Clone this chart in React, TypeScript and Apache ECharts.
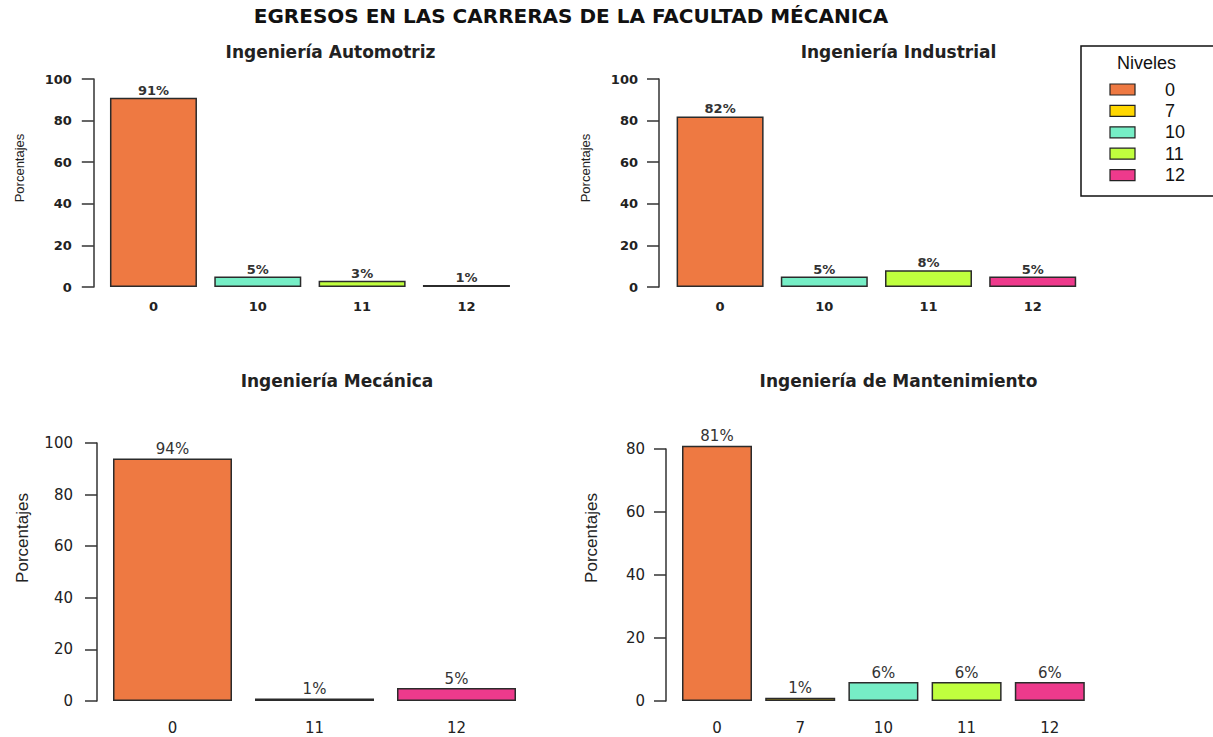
import React, { useEffect, useRef } from "react";
import * as echarts from "echarts";

// ---- Data ----
const levels = ["0", "7", "10", "11", "12"];
const levelColors = ["#EE7942", "#FFD700", "#76EEC6", "#C0FF3E", "#EE3A8C"];

const autoCats = ["0", "10", "11", "12"];
const autoVals = [91, 5, 3, 1];

const indCats = ["0", "10", "11", "12"];
const indVals = [82, 5, 8, 5];

const mecCats = ["0", "11", "12"];
const mecVals = [94, 1, 5];

const manCats = ["0", "7", "10", "11", "12"];
const manVals = [81, 1, 6, 6, 6];

const mainTitle = "EGRESOS EN LAS CARRERAS DE LA FACULTAD MÉCANICA";
const yName = "Porcentajes";
const legendTitle = "Niveles";

const FONT = "'DejaVu Sans', sans-serif";
const NARROW = "'Liberation Sans Narrow', 'Liberation Sans', Arial, sans-serif";

const colorOf = (c: string) => levelColors[levels.indexOf(c)];

const panels = [
  {
    title: "Ingeniería Automotriz", cats: autoCats, vals: autoVals, max: 100,
    grid: { left: 101.3, top: 79, width: 417.3, height: 208 }, offset: 7.5, barWidth: 87,
    small: true, titleX: 330.5, titleTop: 43, nameX: 19.5, nameY: 168, labelMargin: 22,
  },
  {
    title: "Ingeniería Industrial", cats: indCats, vals: indVals, max: 100,
    grid: { left: 668, top: 79, width: 416.8, height: 208 }, offset: 9, barWidth: 87,
    small: true, titleX: 898.5, titleTop: 43, nameX: 585, nameY: 168, labelMargin: 21,
  },
  {
    title: "Ingeniería Mecánica", cats: mecCats, vals: mecVals, max: 100,
    grid: { left: 101.5, top: 443, width: 426, height: 258 }, offset: 4.5, barWidth: 119,
    small: false, titleX: 337, titleTop: 372, nameX: 22, nameY: 538, labelMargin: 24,
  },
  {
    title: "Ingeniería de Mantenimiento", cats: manCats, vals: manVals, max: 80,
    grid: { left: 675.4, top: 449, width: 416, height: 252 }, offset: 9.4, barWidth: 70,
    small: false, titleX: 898.5, titleTop: 372, nameX: 591, nameY: 538, labelMargin: 21,
  },
];

export default function App() {
  const ref = useRef<HTMLDivElement>(null);

  useEffect(() => {
    if (!ref.current) return;
    const chart = echarts.init(ref.current, null, { renderer: "svg" });

    const titles: any[] = [
      {
        text: mainTitle, left: 571, top: 6, textAlign: "center", padding: 0,
        textStyle: { fontFamily: FONT, fontSize: 20, fontWeight: "bold", color: "#111" },
      },
    ];
    const grids: any[] = [];
    const xAxes: any[] = [];
    const yAxes: any[] = [];
    const series: any[] = [];
    const graphics: any[] = [];

    panels.forEach((p, i) => {
      const s = p.small;
      titles.push({
        text: p.title, left: p.titleX, top: p.titleTop, textAlign: "center", padding: 0,
        textStyle: { fontFamily: FONT, fontSize: s ? 17 : 17, fontWeight: "bold", color: "#222" },
      });
      grids.push({ ...p.grid, containLabel: false, outerBoundsMode: "none" });
      xAxes.push({
        type: "category", gridIndex: i, data: p.cats,
        axisLine: { show: false }, axisTick: { show: false },
        axisLabel: {
          margin: s ? 13 : 19, fontFamily: FONT, fontSize: s ? 13 : 15,
          fontWeight: s ? "bold" : "normal", color: "#222",
        },
      });
      yAxes.push({
        type: "value", gridIndex: i, min: 0, max: p.max, interval: 20, offset: p.offset,
        splitLine: { show: false },
        axisLine: { show: true, lineStyle: { color: "#333", width: 1.5 } },
        axisTick: { show: true, length: 12, lineStyle: { color: "#333", width: 1.5 } },
        axisLabel: {
          margin: p.labelMargin, fontFamily: FONT, fontSize: s ? 13 : 15,
          fontWeight: s ? "bold" : "normal", color: "#222",
        },
      });
      series.push({
        type: "bar", xAxisIndex: i, yAxisIndex: i, clip: false, barWidth: p.barWidth,
        data: p.vals.map((v, k) => ({
          value: v,
          itemStyle: { color: colorOf(p.cats[k]), borderColor: "#2b2b2b", borderWidth: 1.5 },
        })),
        label: {
          show: true, position: "top", distance: s ? 1 : 2,
          formatter: (d: any) => `${d.value}%`,
          fontFamily: FONT, fontSize: s ? 13 : 15, fontWeight: s ? "bold" : "normal", color: "#333",
        },
      });
      graphics.push({
        type: "text", x: p.nameX, y: p.nameY, rotation: Math.PI / 2,
        style: {
          text: yName, fontFamily: NARROW, fontSize: s ? 13 : 17, fill: "#222",
          textAlign: "center", textVerticalAlign: "middle",
        },
      });
    });

    // Legend
    graphics.push({
      type: "rect", shape: { x: 1081, y: 46, width: 145, height: 150 },
      style: { fill: "#fff", stroke: "#111", lineWidth: 1.5 },
    });
    graphics.push({
      type: "text", x: 1146.5, y: 63,
      style: { text: legendTitle, fontFamily: NARROW, fontSize: 18, fill: "#111", textAlign: "center", textVerticalAlign: "middle" },
    });
    levels.forEach((lv, k) => {
      const cy = 89.5 + k * 21.4;
      graphics.push({
        type: "rect", shape: { x: 1110, y: cy - 5.5, width: 25, height: 11 },
        style: { fill: levelColors[k], stroke: "#222", lineWidth: 1.2 },
      });
      graphics.push({
        type: "text", x: 1165, y: cy,
        style: { text: lv, fontFamily: NARROW, fontSize: 18, fill: "#111", textAlign: "left", textVerticalAlign: "middle" },
      });
    });

    chart.setOption({
      animation: false,
      backgroundColor: "#fff",
      title: titles,
      grid: grids,
      xAxis: xAxes,
      yAxis: yAxes,
      series,
      graphic: graphics,
    });

    return () => chart.dispose();
  }, []);

  return (
    <div
      ref={ref}
      style={{ position: "fixed", left: 0, top: 0, width: 1213, height: 737, background: "#fff" }}
    />
  );
}
